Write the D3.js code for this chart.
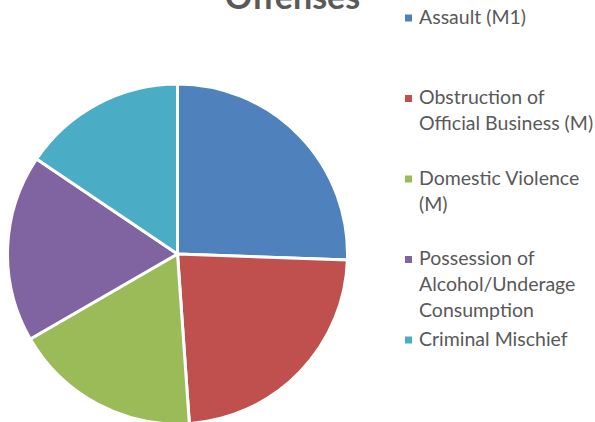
<!DOCTYPE html>
<html>
<head>
<meta charset="utf-8">
<script src="https://cdn.jsdelivr.net/npm/d3@7"></script>
<style>
  html, body { margin: 0; padding: 0; background: #fff; }
  svg { display: block; }
</style>
</head>
<body>
<svg id="chart" width="595" height="422"></svg>
<script>
const title = "Offenses";
const categories = [
  "Assault (M1)",
  "Obstruction of Official Business (M)",
  "Domestic Violence (M)",
  "Possession of Alcohol/Underage Consumption",
  "Criminal Mischief"
];
const legendLines = [
  ["Assault (M1)"],
  ["Obstruction of", "Official Business (M)"],
  ["Domestic Violence", "(M)"],
  ["Possession of", "Alcohol/Underage", "Consumption"],
  ["Criminal Mischief"]
];
const values = [23, 21, 16, 16, 14];
const colors = ["#4F81BD", "#C0504D", "#9BBB59", "#8064A2", "#4BACC6"];

const svg = d3.select("#chart");
const font = "Lato, 'Open Sans', sans-serif";
const textColor = "#595959";

// Title
svg.append("text")
  .attr("x", 292.5)
  .attr("y", 8.5)
  .attr("text-anchor", "middle")
  .attr("font-family", font)
  .attr("font-weight", "bold")
  .attr("font-size", 34)
  .attr("fill", textColor)
  .text(title);

// Pie
const cx = 177.5, cy = 254, r = 170;
const data = categories.map((c, i) => ({ name: c, value: values[i], color: colors[i] }));
const pie = d3.pie().value(d => d.value).sort(null);
const arc = d3.arc().innerRadius(0).outerRadius(r);
const g = svg.append("g").attr("transform", `translate(${cx},${cy})`);
g.selectAll("path")
  .data(pie(data))
  .join("path")
  .attr("d", arc)
  .attr("fill", d => d.data.color)
  .attr("stroke", "#fff")
  .attr("stroke-width", 3)
  .attr("stroke-linejoin", "round");

// Legend
const legendX = 405, textX = 419, firstBaseline = 23.5, itemStep = 80.5, lineH = 26;
const lg = svg.append("g");
data.forEach((d, i) => {
  const by = firstBaseline + i * itemStep;
  lg.append("rect")
    .attr("x", legendX)
    .attr("y", by - 9)
    .attr("width", 7)
    .attr("height", 7)
    .attr("fill", d.color);
  const t = lg.append("text")
    .attr("font-family", font)
    .attr("font-size", 19.5)
    .attr("fill", textColor);
  legendLines[i].forEach((line, j) => {
    t.append("tspan")
      .attr("x", textX)
      .attr("y", by + j * lineH)
      .text(line);
  });
});
</script>
</body>
</html>
